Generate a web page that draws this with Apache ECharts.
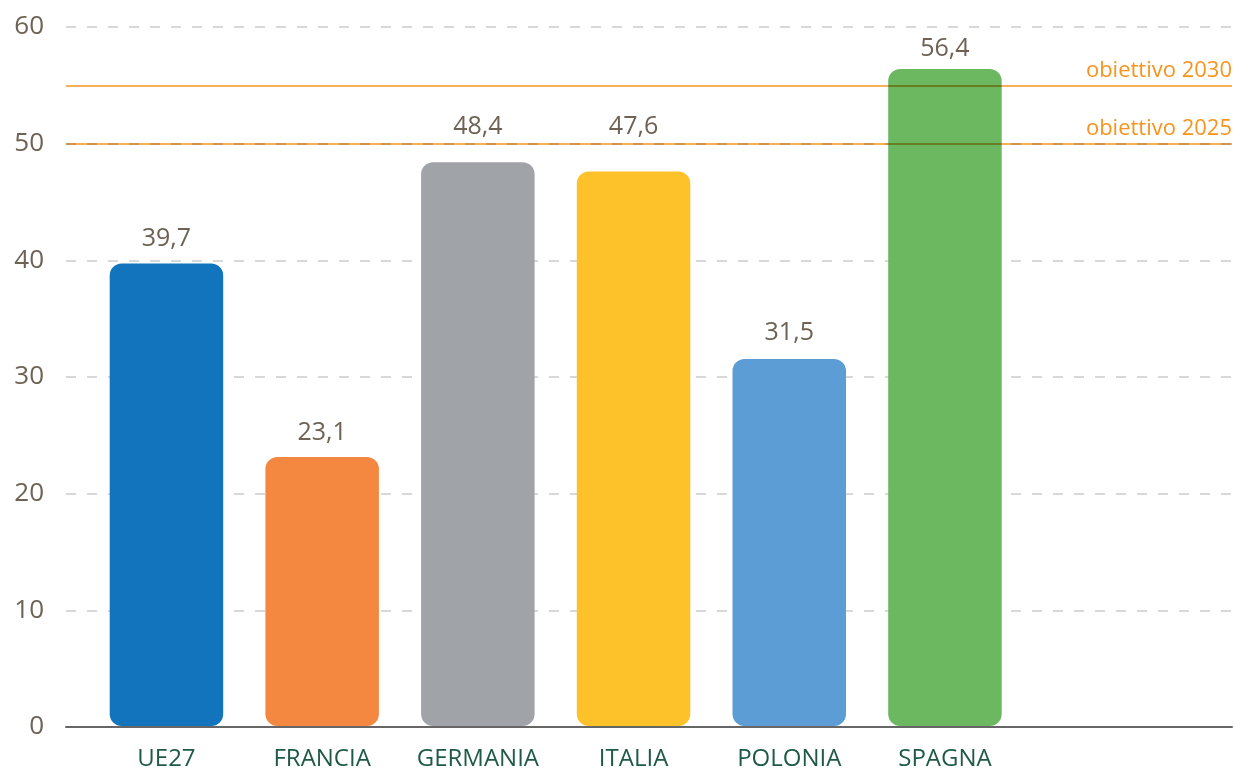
<!DOCTYPE html>
<html>
<head>
<meta charset="utf-8">
<script src="https://cdn.jsdelivr.net/npm/echarts@6/dist/echarts.min.js"></script>
<style>
  html, body { margin: 0; padding: 0; background: #ffffff; }
  #chart { width: 1234px; height: 771px; }
</style>
</head>
<body>
<div id="chart"></div>
<script>
// Countries and their values (%)
const categories = ['UE27', 'FRANCIA', 'GERMANIA', 'ITALIA', 'POLONIA', 'SPAGNA'];
const values = [39.7, 23.1, 48.4, 47.6, 31.5, 56.4];
const barColors = ['#1174bc', '#f58840', '#a0a3a7', '#fdc12a', '#5b9dd4', '#6bb860'];
// gap between bar top and its value label (labels lifted clear of the target lines)
const labelGaps = [12, 12, 23, 32, 14, 8];

// Target reference lines
const targetNames = ['obiettivo 2030', 'obiettivo 2025'];
const targetValues = [55, 50];

// Value axis
const yMin = 0, yMax = 60, yStep = 10;

const FONT = '"Open Sans", "Noto Sans", sans-serif';
const chart = echarts.init(document.getElementById('chart'), null, { renderer: 'canvas' });

const fmt = v => String(v).replace('.', ',');

chart.setOption({
  backgroundColor: '#ffffff',
  animation: false,
  grid: [
    // background grid: gridlines, value labels, baseline, target lines
    { left: 66, right: 2, top: 27, bottom: 44 },
    // bars
    { left: 88.6, width: 934.2, top: 27, bottom: 44 }
  ],
  xAxis: [
    {
      type: 'value', gridIndex: 0, min: 0, max: 1,
      axisLabel: { show: false }, axisTick: { show: false },
      splitLine: { show: false },
      axisLine: { show: true, lineStyle: { color: '#666666', width: 2 } }
    },
    {
      type: 'category', gridIndex: 1, data: categories,
      axisLine: { show: false }, axisTick: { show: false },
      axisLabel: {
        interval: 0, hideOverlap: false,
        color: '#1f5a47', fontSize: 24, fontFamily: FONT, margin: 21
      }
    }
  ],
  yAxis: [
    {
      type: 'value', gridIndex: 0, min: yMin, max: yMax, interval: yStep,
      axisLine: { show: false }, axisTick: { show: false },
      axisLabel: { color: '#6d6254', fontSize: 26, fontFamily: FONT, margin: 22 },
      splitLine: { show: true, lineStyle: { color: '#cccccc', width: 1.5, type: [10, 11] } }
    },
    {
      type: 'value', gridIndex: 1, min: yMin, max: yMax, interval: yStep,
      show: false, splitLine: { show: false }
    }
  ],
  series: [
    {
      type: 'bar',
      xAxisIndex: 1, yAxisIndex: 1,
      barWidth: 113.5,
      z: 2,
      data: values.map((v, i) => ({
        value: v,
        itemStyle: { color: barColors[i], borderRadius: 12 },
        label: { distance: labelGaps[i] }
      })),
      label: {
        show: true, position: 'top',
        color: '#6d6254', fontSize: 25, fontFamily: FONT,
        formatter: p => fmt(p.value)
      }
    },
    {
      type: 'lines',
      coordinateSystem: 'cartesian2d',
      xAxisIndex: 0, yAxisIndex: 0,
      z: 5,
      blendMode: 'multiply',
      symbol: 'none',
      lineStyle: { color: '#f7941d', width: 1.5, opacity: 1 },
      label: {
        show: true, position: 'insideEndTop', distance: [0, 4],
        color: '#f7941d', fontSize: 22, fontFamily: FONT,
        formatter: p => p.name
      },
      data: targetNames.map((n, i) => ({
        name: n,
        coords: [[0, targetValues[i]], [1, targetValues[i]]]
      }))
    }
  ]
});
</script>
</body>
</html>
